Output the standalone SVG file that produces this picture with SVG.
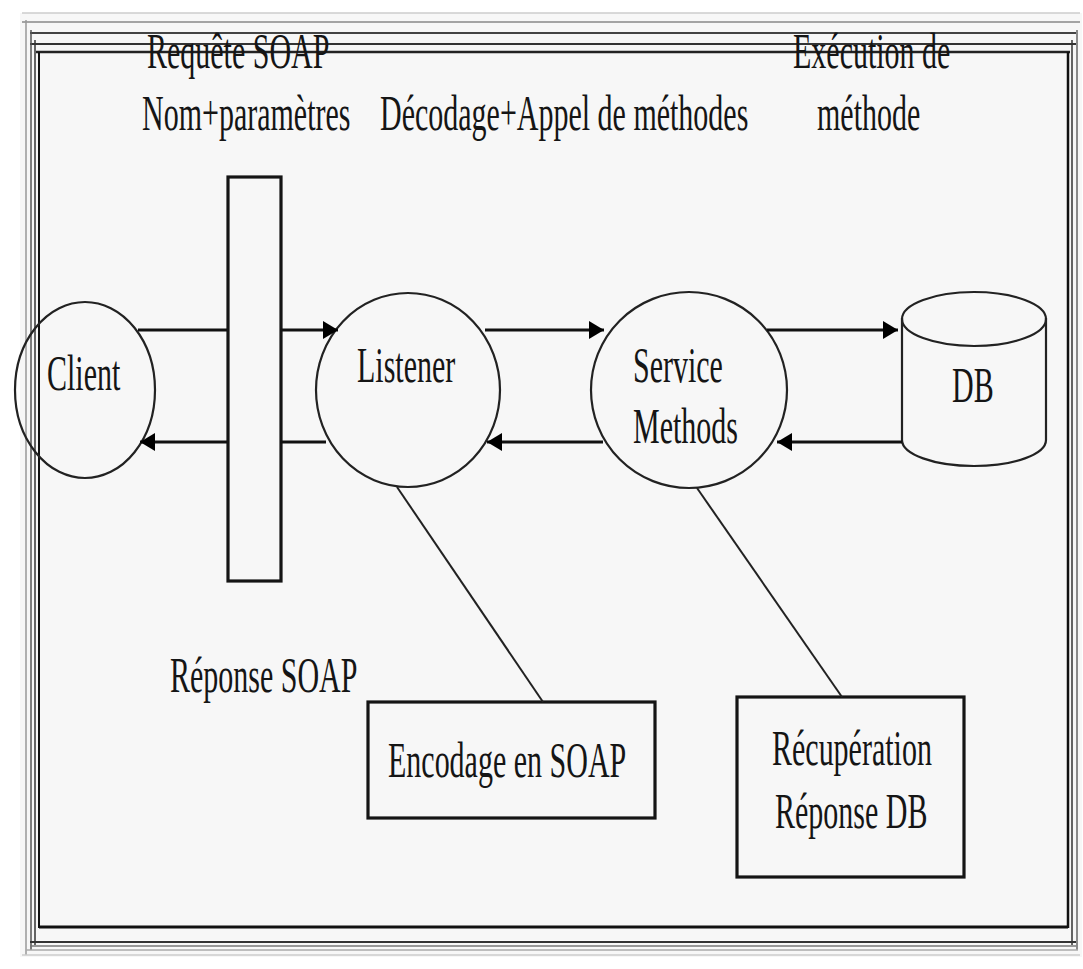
<svg xmlns="http://www.w3.org/2000/svg" width="1083" height="969" viewBox="0 0 1083 969">
<style>
text{font-family:"Liberation Serif","Times New Roman",serif;font-size:50px;fill:#151515}
.shape{fill:none;stroke:#222;stroke-width:2.2}
.box{fill:none;stroke:#151515;stroke-width:3.2}
.conn{stroke:#111;stroke-width:3;fill:none}
.thin{stroke:#222;stroke-width:2;fill:none}
</style>
<defs>
<marker id="ah" markerUnits="userSpaceOnUse" markerWidth="16" markerHeight="18" refX="15" refY="9" orient="auto">
<path d="M0,0 L15,9 L0,18 Z" fill="#000"/>
</marker>
</defs>
<rect x="0" y="0" width="1083" height="969" fill="#ffffff"/>
<rect x="20" y="13" width="1062" height="944" fill="#f7f7f7"/>
<g id="frame">
<line x1="22" y1="13" x2="1080" y2="13" stroke="#ccc" stroke-width="1.5"/>
<line x1="22" y1="22" x2="1080" y2="22" stroke="#888" stroke-width="1.5"/>
<line x1="30" y1="33" x2="1076" y2="33" stroke="#444" stroke-width="2"/>
<line x1="30" y1="44" x2="1076" y2="44" stroke="#333" stroke-width="2"/>
<line x1="36" y1="52" x2="1070" y2="52" stroke="#222" stroke-width="2.5"/>
<line x1="26" y1="20" x2="26" y2="955" stroke="#999" stroke-width="1.5"/>
<line x1="31" y1="30" x2="31" y2="950" stroke="#555" stroke-width="1.5"/>
<line x1="35" y1="40" x2="35" y2="945" stroke="#333" stroke-width="1.5"/>
<line x1="39" y1="52" x2="39" y2="928" stroke="#111" stroke-width="2"/>
<line x1="1068" y1="52" x2="1068" y2="928" stroke="#111" stroke-width="2.5"/>
<line x1="1072" y1="40" x2="1072" y2="945" stroke="#333" stroke-width="1.5"/>
<line x1="1077" y1="30" x2="1077" y2="950" stroke="#666" stroke-width="1.5"/>
<line x1="39" y1="927" x2="1068" y2="927" stroke="#111" stroke-width="3"/>
<line x1="30" y1="942" x2="1076" y2="942" stroke="#333" stroke-width="2"/>
<line x1="30" y1="946" x2="1076" y2="946" stroke="#777" stroke-width="1.5"/>
<line x1="26" y1="950" x2="1078" y2="950" stroke="#aaa" stroke-width="1.5"/>
<line x1="22" y1="955" x2="1080" y2="955" stroke="#ccc" stroke-width="1.5"/>
</g>
<g id="labels">
<text transform="translate(147,68) scale(0.6,1)">Requête SOAP</text>
<text transform="translate(142,130) scale(0.6,1)">Nom+paramètres</text>
<text transform="translate(380,130) scale(0.6,1)">Décodage+Appel de méthodes</text>
<text transform="translate(793,68) scale(0.6,1)">Exécution de</text>
<text transform="translate(817,130) scale(0.6,1)">méthode</text>
<text transform="translate(170,692) scale(0.6,1)">Réponse SOAP</text>
</g>
<g id="soap-channel">
<rect x="228" y="177" width="53" height="404" class="box" stroke-width="3"/>
</g>
<g id="client">
<ellipse cx="85" cy="390" rx="70" ry="88" class="shape"/>
<text transform="translate(47,390) scale(0.6,1)">Client</text>
</g>
<g id="listener">
<ellipse cx="408" cy="390" rx="92" ry="97" class="shape"/>
<text transform="translate(357,382) scale(0.6,1)">Listener</text>
</g>
<g id="service">
<ellipse cx="689" cy="390" rx="98" ry="98" class="shape"/>
<text transform="translate(633,382) scale(0.6,1)">Service</text>
<text transform="translate(633,443) scale(0.6,1)">Methods</text>
</g>
<g id="db">
<path d="M902,318 L902,440 A72,26 0 0 0 1046,440 L1046,318" class="shape"/>
<ellipse cx="974" cy="319" rx="72" ry="27" class="shape"/>
<text transform="translate(952,402) scale(0.6,1)">DB</text>
</g>
<g id="encodage">
<rect x="368" y="702" width="287" height="116" class="box"/>
<text transform="translate(388,777) scale(0.6,1)">Encodage en SOAP</text>
</g>
<g id="recuperation">
<rect x="737" y="697" width="227" height="180" class="box"/>
<text transform="translate(772,765) scale(0.6,1)">Récupération</text>
<text transform="translate(775,828) scale(0.6,1)">Réponse DB</text>
</g>
<g id="connectors">
<line x1="138" y1="330" x2="227" y2="330" class="conn"/>
<line x1="280" y1="330" x2="338" y2="330" class="conn" marker-end="url(#ah)"/>
<line x1="326" y1="442" x2="280" y2="442" class="conn"/>
<line x1="227" y1="442" x2="140" y2="442" class="conn" marker-end="url(#ah)"/>
<line x1="485" y1="330" x2="604" y2="330" class="conn" marker-end="url(#ah)"/>
<line x1="603" y1="442" x2="487" y2="442" class="conn" marker-end="url(#ah)"/>
<line x1="767" y1="330" x2="898" y2="330" class="conn" marker-end="url(#ah)"/>
<line x1="902" y1="442" x2="777" y2="442" class="conn" marker-end="url(#ah)"/>
<line x1="397" y1="487" x2="543" y2="702" class="thin"/>
<line x1="697" y1="488" x2="842" y2="697" class="thin"/>
</g>
</svg>
